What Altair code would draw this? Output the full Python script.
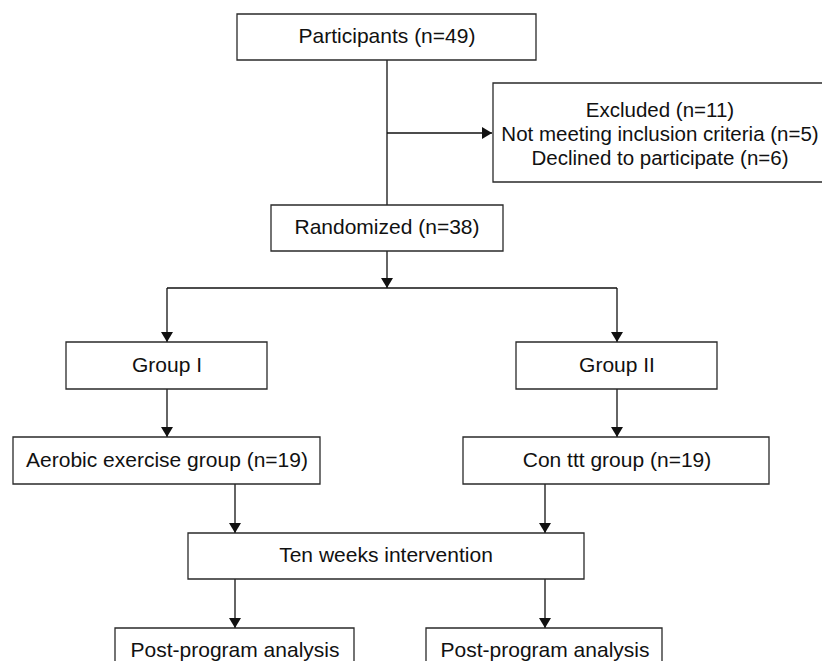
import altair as alt
import pandas as pd

# ---- flowchart content (page-pixel layout) ----
box_left   = [237, 493, 271, 66, 516, 13, 463, 188, 115, 426]
box_right  = [536, 837, 503, 267, 717, 320, 769, 584, 354, 662]
box_top    = [14, 83, 205, 342, 342, 437, 437, 533, 628, 628]
box_bottom = [60, 182, 251, 389, 389, 484, 484, 579, 674, 674]

labels = [
    "Participants (n=49)",
    "Excluded (n=11)",
    "Not meeting inclusion criteria (n=5)",
    "Declined to participate (n=6)",
    "Randomized (n=38)",
    "Group I",
    "Group II",
    "Aerobic exercise group (n=19)",
    "Con ttt group (n=19)",
    "Ten weeks intervention",
    "Post-program analysis",
    "Post-program analysis",
]
label_x = [387, 660, 660, 660, 387, 167, 617, 167, 617, 386, 235, 545]
label_y = [37, 111, 135, 159, 228, 365.5, 365.5, 460.5, 460.5, 556, 651, 651]
label_size = [21, 20.5, 20.5, 20.5, 21, 21, 21, 21, 21, 21, 21, 21]

line_x1 = [387, 387, 387, 167, 167, 617, 167, 617, 235, 545, 235, 545]
line_y1 = [60, 133, 251, 288, 288, 288, 389, 389, 484, 484, 579, 579]
line_x2 = [387, 492, 387, 617, 167, 617, 167, 617, 235, 545, 235, 545]
line_y2 = [205, 133, 288, 288, 342, 342, 437, 437, 533, 533, 628, 628]

arrow_x   = [492, 387, 167, 617, 167, 617, 235, 545, 235, 545]
arrow_y   = [133, 288, 342, 342, 437, 437, 533, 533, 628, 628]
arrow_dir = ["right", "down", "down", "down", "down", "down", "down", "down", "down", "down"]

boxes = pd.DataFrame({"x": box_left, "x2": box_right, "y": box_top, "y2": box_bottom})
texts = pd.DataFrame({"x": label_x, "y": label_y, "t": labels, "s": label_size})
lines = pd.DataFrame({"x": line_x1, "y": line_y1, "x2": line_x2, "y2": line_y2})
arrows = pd.DataFrame({"x": arrow_x, "y": arrow_y, "d": arrow_dir})

W, H = 814, 653
xs = alt.Scale(domain=[8, 8 + W], nice=False, zero=False)
ys = alt.Scale(domain=[8, 8 + H], nice=False, zero=False, reverse=True)

X = lambda f: alt.X(f"{f}:Q", scale=xs, axis=None)
Y = lambda f: alt.Y(f"{f}:Q", scale=ys, axis=None)

rules = alt.Chart(lines).mark_rule(color="#111", strokeWidth=1.3, clip=True).encode(
    x=X("x"), y=Y("y"), x2="x2:Q", y2="y2:Q"
)

rects = alt.Chart(boxes).mark_rect(
    fill="white", stroke="#2a2a2a", strokeWidth=1.3, clip=True
).encode(x=X("x"), x2="x2:Q", y=Y("y"), y2="y2:Q")

down_path = "M-0.6,-1L0.6,-1L0,0Z"
right_path = "M-1,-0.6L-1,0.6L0,0Z"

heads = alt.Chart(arrows).mark_point(
    filled=True, size=400, opacity=1, strokeWidth=0, color="#111", clip=True
).encode(
    x=X("x"), y=Y("y"),
    shape=alt.Shape("d:N", scale=alt.Scale(domain=["down", "right"], range=[down_path, right_path]), legend=None),
)

txt = alt.Chart(texts).mark_text(
    font="Liberation Sans", color="#111", align="center", baseline="middle", clip=True
).encode(
    x=X("x"), y=Y("y"), text="t:N",
    size=alt.Size("s:Q", scale=None, legend=None),
)

chart = alt.layer(rules, rects, heads, txt).properties(
    width=W, height=H, autosize=alt.AutoSizeParams(type="none"), padding=0
).configure_view(stroke=None)

chart.save("out.html", embed_options={"renderer": "svg", "actions": False})
